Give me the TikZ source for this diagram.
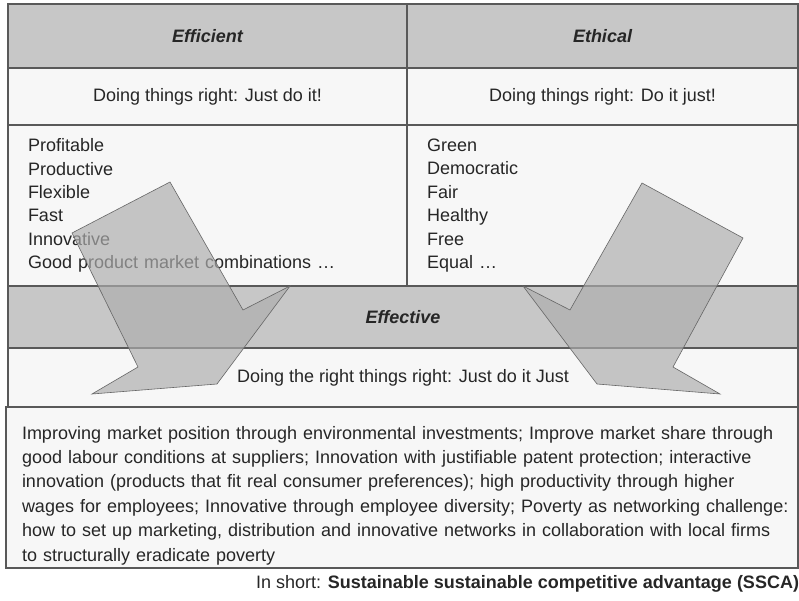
\documentclass[tikz,border=0pt]{standalone}
\usepackage{fontspec}
\setmainfont{Liberation Sans}
\usepackage{xcolor}
\usetikzlibrary{positioning,calc}

\definecolor{hdrgray}{gray}{0.78}
\definecolor{rulegray}{gray}{0.35}
\definecolor{cellwhite}{gray}{0.97}

\begin{document}
\begin{tikzpicture}[x=1pt, y=-1pt,
    every node/.style={font=\fontsize{18}{23.4}\selectfont, inner sep=0pt, outer sep=0pt, text=black!85},
    cell/.style={draw=rulegray, line width=1.3pt, fill=cellwhite, anchor=north west},
    hdr/.style={cell, fill=hdrgray, font=\fontsize{18}{23.4}\selectfont\bfseries\itshape},
    listcell/.style={cell, inner xsep=20pt, text width=359pt, align=left},
    bigarrow/.style={draw=black!60, line width=0.6pt, fill=black!32, fill opacity=0.68}]
  \def\cw{399pt}
  \def\cwr{391pt}

  \useasboundingbox (0,0) rectangle (799,601);
  \fill[white] (0,0) rectangle (799,601);

  % upper table
  \node[hdr, minimum width=\cw, minimum height=64pt] (effh) at (8,4) {Efficient};
  \node[hdr, minimum width=\cwr, minimum height=64pt] (ethh) at (407,4) {Ethical};
  \node[cell, minimum width=\cw, minimum height=57pt] (effm) at (8,68)
        {Doing things right: Just do it!};
  \node[cell, minimum width=\cwr, minimum height=57pt] (ethm) at (407,68)
        {Doing things right: Do it just!};
  \node[listcell, minimum width=\cw, minimum height=161pt] (effl) at (8,125)
        {Profitable\\Productive\\Flexible\\Fast\\Innovative\\Good product market combinations \dots};
  \node[listcell, minimum width=\cwr, minimum height=161pt, text width=351pt] (ethl) at (407,125)
        {Green\\Democratic\\Fair\\Healthy\\Free\\Equal \dots};

  % lower table
  \node[hdr, minimum width=790pt, minimum height=62pt] (effvh) at (8,286) {Effective};
  \node[cell, minimum width=790pt, minimum height=59pt] (effvm) at (8,348)
        {Doing the right things right: Just do it Just};
  \node[cell, minimum width=792pt, minimum height=161pt] (sscabox) at (6,407) {};
  \node[anchor=north west, text width=775pt, align=left,
        font=\fontsize{18}{24.4}\selectfont] (sscatext) at (22,426)
        {Improving market position through environmental investments; Improve market share through\\
         good labour conditions at suppliers; Innovation with justifiable patent protection; interactive\\
         innovation (products that fit real consumer preferences); high productivity through higher\\
         wages for employees; Innovative through employee diversity; Poverty as networking challenge:\\
         how to set up marketing, distribution and innovative networks in collaboration with local firms\\
         to structurally eradicate poverty};
  \node[anchor=east] (inshort) at (799,584)
        {In short: \textbf{Sustainable sustainable competitive advantage (SSCA)}};

  % block arrows
  \filldraw[bigarrow] (170,182) -- (72,233) -- (138,367) -- (92,394) -- (217,384)
        -- (290,286) -- (243,310) -- cycle;
  \filldraw[bigarrow] (642,183) -- (743,238) -- (673,367) -- (720,394) -- (597,384)
        -- (523,286) -- (570,310) -- cycle;
\end{tikzpicture}
\end{document}
